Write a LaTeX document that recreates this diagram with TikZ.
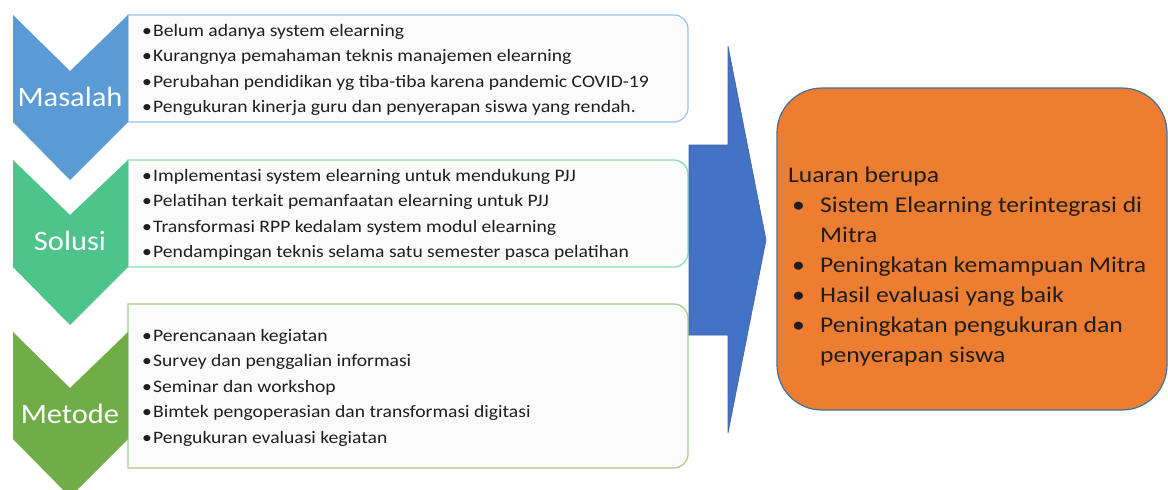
\documentclass[tikz,border=0pt]{standalone}
\usepackage{fontspec}
\setmainfont{Carlito}
\newfontfamily\lftfont[FakeStretch=1.12]{Carlito}
\newfontfamily\outfont[FakeStretch=1.14]{Carlito}
\newfontfamily\labfont[FakeStretch=1.09]{Carlito}
\definecolor{cblue}{HTML}{5B9BD5}
\definecolor{cteal}{HTML}{4CC48B}
\definecolor{cgreen}{HTML}{70AD47}
\definecolor{bblue}{HTML}{9DC3E6}
\definecolor{bteal}{HTML}{8ADBB2}
\definecolor{bgreen}{HTML}{A3CF86}
\definecolor{arrowblue}{HTML}{4472C4}
\definecolor{corange}{HTML}{ED7D31}
\definecolor{oborder}{HTML}{41719C}
\definecolor{txt}{HTML}{1E1E1E}
\definecolor{boxfill}{HTML}{FBFBFB}
\begin{document}
\begin{tikzpicture}[x=1pt,y=-1pt,
  tbox/.style={fill=boxfill,line width=1.2pt},
  listtxt/.style={anchor=base west,inner sep=0pt,align=left,text=txt,
    font=\lftfont\fontsize{17.5}{25.6}\selectfont},
  chevlabel/.style={anchor=base,inner sep=0pt,text=white,font=\labfont\fontsize{28}{30}\selectfont},
  outtxt/.style={anchor=base west,inner sep=0pt,align=left,text=txt,
    font=\outfont\fontsize{22.5}{30}\selectfont}]
\useasboundingbox (0,0) rectangle (1168,490);
\fill[white] (0,0) rectangle (1168,490);
% text boxes (right corners rounded)
\def\R{14}
\draw[tbox,draw=bblue] (128,15) -- (674,15) arc[start angle=-90,end angle=0,radius=\R] -- (688,108) arc[start angle=0,end angle=90,radius=\R] -- (128,122) -- cycle;
\draw[tbox,draw=bteal] (128,160) -- (674,160) arc[start angle=-90,end angle=0,radius=\R] -- (688,253) arc[start angle=0,end angle=90,radius=\R] -- (128,267) -- cycle;
\draw[tbox,draw=bgreen] (128,304) -- (674,304) arc[start angle=-90,end angle=0,radius=\R] -- (688,454) arc[start angle=0,end angle=90,radius=\R] -- (128,468) -- cycle;
% chevrons
\fill[cblue] (13,15) -- (70,71) -- (128,15) -- (128,122) -- (70,180) -- (13,122) -- cycle;
\fill[cteal] (13,160) -- (70,215) -- (128,160) -- (128,267) -- (70,325) -- (13,267) -- cycle;
\fill[cgreen] (13,332) -- (70,388) -- (128,332) -- (128,439) -- (70,497) -- (13,439) -- cycle;
\node[chevlabel] (l1) at (70,106) {Masalah};
\node[chevlabel] (l2) at (70,250) {Solusi};
\node[chevlabel] (l3) at (70,423) {Metode};
% list texts (anchor = baseline of last line)
\node[listtxt] (t1) at (142,112.8) {\makebox[11pt][l]{•}Belum adanya system elearning\\
\makebox[11pt][l]{•}Kurangnya pemahaman teknis manajemen elearning\\
\makebox[11pt][l]{•}Perubahan pendidikan yg tiba-tiba karena pandemic COVID-19\\
\makebox[11pt][l]{•}Pengukuran kinerja guru dan penyerapan siswa yang rendah.};
\node[listtxt] (t2) at (142,257.8) {\makebox[11pt][l]{•}Implementasi system elearning untuk mendukung PJJ\\
\makebox[11pt][l]{•}Pelatihan terkait pemanfaatan elearning untuk PJJ\\
\makebox[11pt][l]{•}Transformasi RPP kedalam system modul elearning\\
\makebox[11pt][l]{•}Pendampingan teknis selama satu semester pasca pelatihan};
\node[listtxt] (t3) at (142,443.4) {\makebox[11pt][l]{•}Perencanaan kegiatan\\
\makebox[11pt][l]{•}Survey dan penggalian informasi\\
\makebox[11pt][l]{•}Seminar dan workshop\\
\makebox[11pt][l]{•}Bimtek pengoperasian dan transformasi digitasi\\
\makebox[11pt][l]{•}Pengukuran evaluasi kegiatan};
% big arrow
\draw[fill=arrowblue,draw=arrowblue!85!black,line width=0.6pt] (689,145) -- (728,145) -- (728,46) -- (766,240) -- (728,433) -- (728,335) -- (689,335) -- cycle;
% output box
\draw[fill=corange,draw=oborder,line width=1.2pt,rounded corners=45pt] (777,88) rectangle (1167,410);
\node[outtxt] (t4) at (788,362) {Luaran berupa\\
\hspace*{4pt}\makebox[28pt][l]{•}Sistem Elearning terintegrasi di\\
\hspace*{32pt}Mitra\\
\hspace*{4pt}\makebox[28pt][l]{•}Peningkatan kemampuan Mitra\\
\hspace*{4pt}\makebox[28pt][l]{•}Hasil evaluasi yang baik\\
\hspace*{4pt}\makebox[28pt][l]{•}Peningkatan pengukuran dan\\
\hspace*{32pt}penyerapan siswa};
\end{tikzpicture}
\end{document}
